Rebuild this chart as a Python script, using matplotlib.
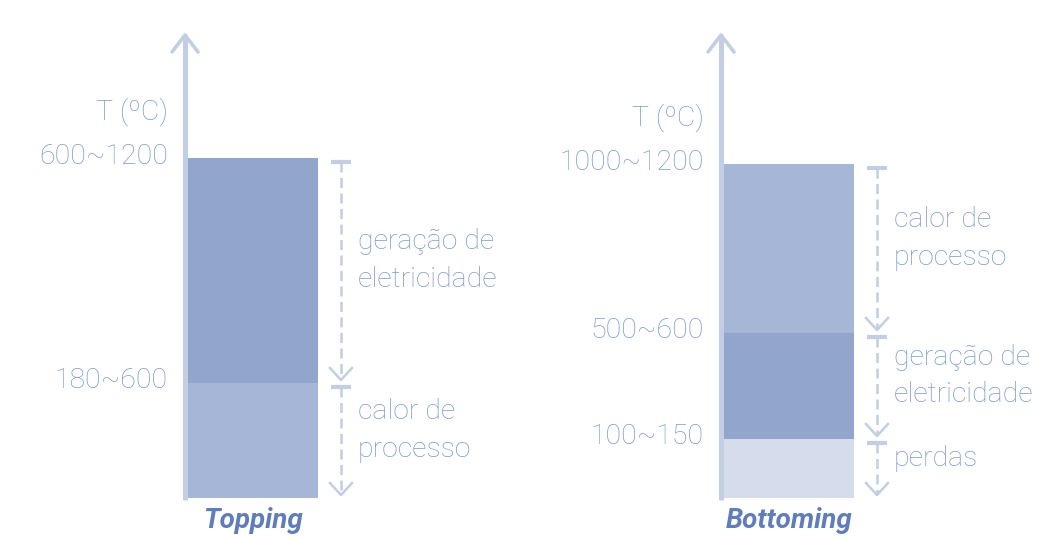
import matplotlib.pyplot as plt

# data (bottom segment first)
top_labels = ["calor de\nprocesso", "geração de\neletricidade"]
top_heights = [115, 225]
top_bounds = ["180~600", "600~1200"]
top_colors = ["#a6b6d7", "#92a6cc"]

bot_labels = ["perdas", "geração de\neletricidade", "calor de\nprocesso"]
bot_heights = [59, 106, 169]
bot_bounds = ["100~150", "500~600", "1000~1200"]
bot_colors = ["#d5ddec", "#92a6cc", "#a6b6d7"]

AXIS_C = "#c3cde3"
TEXT_C = "#7f98cb"
TITLE_C = "#5f7cbb"
FONT = ["Roboto", "DejaVu Sans"]
FS = 20.5

W, H = 1038, 538
BASE = 40          # baseline (pixels from bottom)
AXIS_TOP = 503


def draw_panel(ax, x0, heights, labels, bounds, colors, title):
    bar_left = x0 + 3
    bar_w = 130
    dash_x = x0 + 156

    # temperature axis with open arrow head
    ax.plot([x0, x0], [BASE - 2, AXIS_TOP], color=AXIS_C, lw=3.6,
            solid_capstyle="butt", zorder=3)
    ax.plot([x0 - 13, x0, x0 + 13], [AXIS_TOP - 17, AXIS_TOP, AXIS_TOP - 17],
            color=AXIS_C, lw=2.6, solid_capstyle="round", zorder=3)

    bottom = BASE
    for h, lab, b, c in zip(heights, labels, bounds, colors):
        top = bottom + h
        ax.bar(bar_left, h, bottom=bottom, width=bar_w, align="edge",
               color=c, lw=0, zorder=2)

        # boundary label at top of segment
        ax.text(x0 - 17, top + 2, b, ha="right", va="center", fontsize=FS,
                color=TEXT_C, family=FONT, fontweight="light")

        # dashed range arrow
        cap = top - 4
        tip = bottom + 3
        ax.plot([dash_x - 10, dash_x + 10], [cap, cap], color=AXIS_C, lw=3,
                solid_capstyle="butt")
        ax.plot([dash_x, dash_x], [cap, tip + 2], color=AXIS_C, lw=1.8,
                dashes=(4, 2.2))
        ax.plot([dash_x - 11, dash_x, dash_x + 11], [tip + 12, tip, tip + 12],
                color=AXIS_C, lw=1.8)

        ax.text(x0 + 173, (top + bottom) / 2 + 10, lab, ha="left", va="center",
                fontsize=FS, color=TEXT_C, family=FONT, fontweight="light",
                linespacing=1.5)
        bottom = top

    ax.text(x0 - 17, bottom + 46, "T (ºC)", ha="right", va="center",
            fontsize=FS, color=TEXT_C, family=FONT, fontweight="light")
    ax.text(bar_left + bar_w / 2, BASE - 22, title, ha="center", va="center",
            fontsize=20, color=TITLE_C, family=FONT, fontweight="bold",
            fontstyle="italic")


fig = plt.figure(figsize=(W / 100, H / 100), dpi=100)
ax = fig.add_axes([0, 0, 1, 1])
ax.set_xlim(0, W)
ax.set_ylim(0, H)
ax.axis("off")

draw_panel(ax, 185, top_heights, top_labels, top_bounds, top_colors, "Topping")
draw_panel(ax, 721, bot_heights, bot_labels, bot_bounds, bot_colors, "Bottoming")

fig.savefig("out.png", dpi=100, facecolor="white")
